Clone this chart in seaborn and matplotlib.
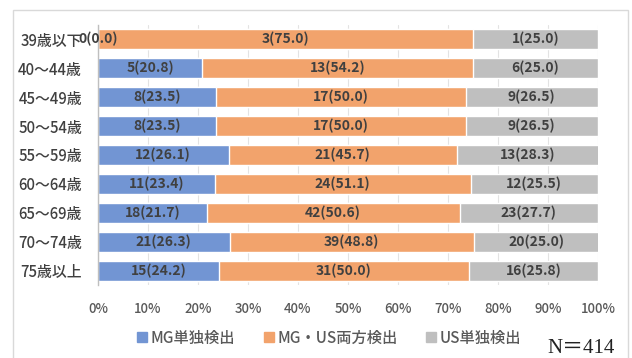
import matplotlib
matplotlib.use("Agg")
import matplotlib.pyplot as plt
import seaborn as sns
import pandas as pd
import numpy as np
from matplotlib.patches import Rectangle

# Age groups and detection breakdown: counts and row percentages
ages = ["39歳以下", "40～44歳", "45～49歳", "50～54歳", "55～59歳",
        "60～64歳", "65～69歳", "70～74歳", "75歳以上"]
mg_only_n = [0, 5, 8, 8, 12, 11, 18, 21, 15]
mg_only_pct = [0.0, 20.8, 23.5, 23.5, 26.1, 23.4, 21.7, 26.3, 24.2]
both_n = [3, 13, 17, 17, 21, 24, 42, 39, 31]
both_pct = [75.0, 54.2, 50.0, 50.0, 45.7, 51.1, 50.6, 48.8, 50.0]
us_only_n = [1, 6, 9, 9, 13, 12, 23, 20, 16]
us_only_pct = [25.0, 25.0, 26.5, 26.5, 28.3, 25.5, 27.7, 25.0, 25.8]
series_names = ["MG単独検出", "MG・US両方検出", "US単独検出"]
x_ticks = [0, 10, 20, 30, 40, 50, 60, 70, 80, 90, 100]
total_label = "N＝414"

colors = ["#7295d3", "#f2a36c", "#bfbfbf"]

sns.set_theme(style="white")
plt.rcParams["font.family"] = ["Noto Sans CJK JP", "DejaVu Sans"]

df = pd.DataFrame({
    "age": ages,
    "mg": mg_only_pct,
    "both": both_pct,
    "us": us_only_pct,
})
df["c1"] = df["mg"]
df["c2"] = df["mg"] + df["both"]
df["c3"] = df["c2"] + df["us"]

fig = plt.figure(figsize=(6.32, 3.58), dpi=100)
ax = fig.add_axes([98 / 632, 1 - 285 / 358, 500 / 632, 260 / 358])

# Stacked bars: draw cumulative totals from the outermost segment inward
for col, color in zip(["c3", "c2", "c1"], colors[::-1]):
    sns.barplot(data=df, x=col, y="age", orient="h", color=color,
                width=0.69, saturation=1, ax=ax, zorder=2)

ax.set_xlim(0, 100)
ax.set_ylim(len(ages) - 0.5, -0.5)
ax.set_xticks(x_ticks)
ax.set_xticklabels([f"{t}%" for t in x_ticks], color="#595959",
                   fontsize=9.5, fontweight="medium")
ax.tick_params(axis="x", length=0, pad=12)
ax.tick_params(axis="y", length=0, pad=11.5)
ax.set_yticks(range(len(ages)))
ax.set_yticklabels(ages, color="#404040", fontsize=10.7, fontweight="medium")
ax.set_xlabel("")
ax.set_ylabel("")
ax.grid(axis="x", color="#e3e3e3", linewidth=0.8, zorder=0)
ax.set_axisbelow(True)
for s in ["top", "right", "bottom"]:
    ax.spines[s].set_visible(False)
ax.spines["left"].set_color("#bfbfbf")
ax.spines["left"].set_linewidth(1.0)

# Segment labels: count(percent)
label_kw = dict(ha="center", va="center", fontsize=10, color="#404040",
                fontweight="bold", zorder=5)
for i in range(len(ages)):
    starts = [0, df["c1"][i], df["c2"][i]]
    widths = [mg_only_pct[i], both_pct[i], us_only_pct[i]]
    counts = [mg_only_n[i], both_n[i], us_only_n[i]]
    for s, w, n in zip(starts, widths, counts):
        ax.text(s + w / 2, i, f"{n}({w:.1f})", **label_kw)

# Legend below the axis
handles = [plt.Line2D([], [], marker="s", linestyle="", markersize=7,
                      color=c) for c in colors]
fig.legend(handles, series_names, loc="center", ncol=3,
           bbox_to_anchor=(328 / 632, 1 - 338 / 358), frameon=False,
           prop={"size": 11, "weight": "medium"}, labelcolor="#595959",
           handletextpad=0.05, handlelength=1.0, columnspacing=1.7)

# Light frame around the chart area
fig.add_artist(Rectangle((13 / 632, -0.1), 615 / 632, 1.1 - 10 / 358,
                         transform=fig.transFigure, fill=False,
                         edgecolor="#d9d9d9", linewidth=1.0))

fig.text(615 / 632, 1 - 353 / 358, total_label, ha="right", va="baseline",
         fontsize=15, color="#222222",
         family=["Liberation Serif", "Noto Sans CJK JP"])

fig.savefig("out.png", dpi=100)
